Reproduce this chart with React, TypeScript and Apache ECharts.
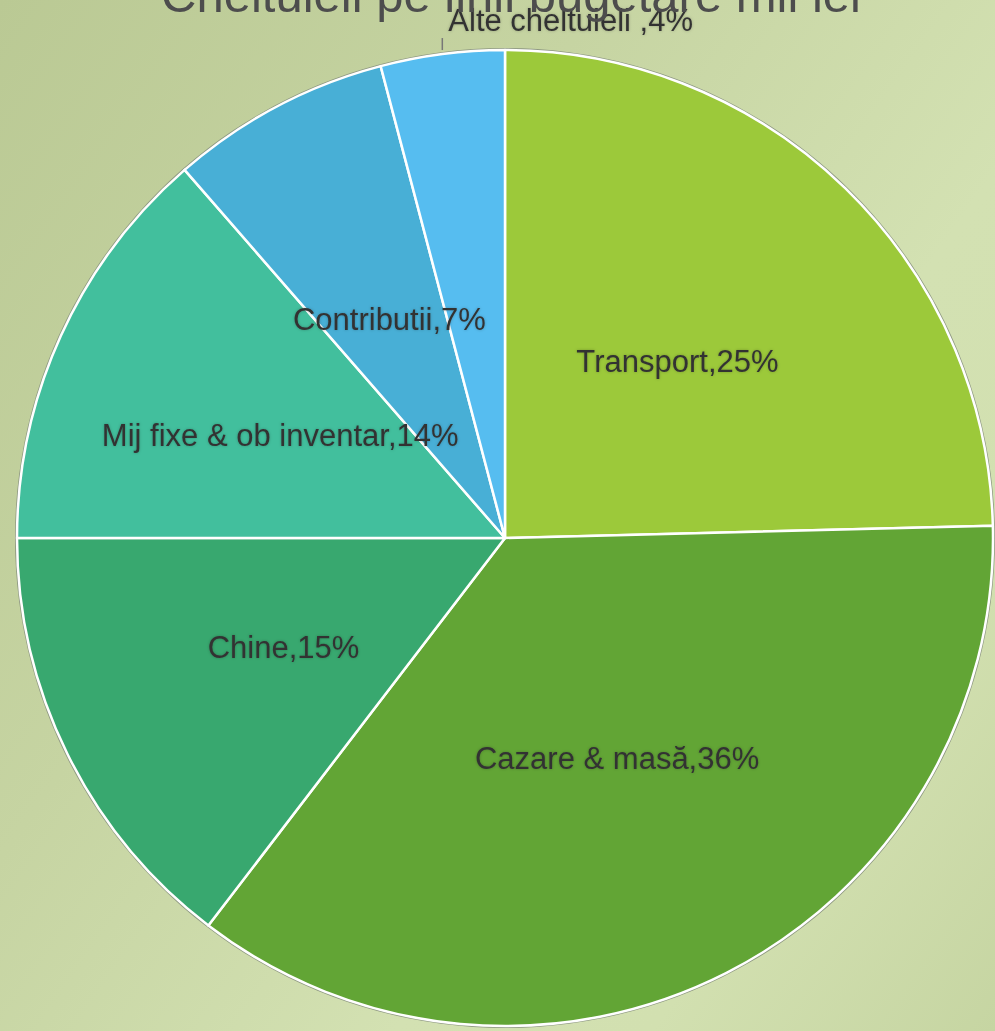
import React, { useEffect, useRef } from "react";
import * as echarts from "echarts";

const titleText = "Cheltuieli pe linii bugetare mii lei";
const categories = [
  "Transport",
  "Cazare & masă",
  "Chine",
  "Mij fixe & ob inventar",
  "Contributii",
  "Alte cheltuieli ",
];
const values = [24.6, 35.8, 14.6, 13.6, 7.3, 4.1];
const colors = ["#9cc93a", "#62a535", "#38a86f", "#42bf9d", "#48afd6", "#56bdf0"];

export default function App() {
  const ref = useRef<HTMLDivElement>(null);
  useEffect(() => {
    if (!ref.current) return;
    const chart = echarts.init(ref.current, null, { renderer: "svg" });
    const labelFont = {
      fontFamily: "'Liberation Sans', Arial, sans-serif",
      fontSize: 31,
      color: "#333",
      textShadowColor: "rgba(0,0,0,0.25)",
      textShadowBlur: 3,
    };
    const data = categories.map((name, i) => {
      const item: any = { name, value: values[i], itemStyle: { color: colors[i] } };
      if (i === categories.length - 1) {
        item.label = { position: "outside", show: true };
        item.labelLine = { show: true, length: 12, length2: 0, lineStyle: { color: "#777", width: 1.5 } };
      }
      return item;
    });
    chart.setOption({
      animation: false,
      backgroundColor: "transparent",
      title: {
        text: titleText,
        left: 506,
        textAlign: "center",
        top: -35,
        textStyle: {
          fontFamily: "'Liberation Sans', Arial, sans-serif",
          fontSize: 49,
          fontWeight: "normal",
          color: "#4d4d4d",
        },
      },
      series: [
        {
          type: "pie",
          silent: true,
          center: [505, 538],
          radius: [0, 490],
          startAngle: 90,
          label: { show: false },
          labelLine: { show: false },
          itemStyle: { color: "#8e9882" },
          data: [{ name: "outline", value: 1 }],
          z: 1,
        },
        {
          type: "pie",
          center: [505, 538],
          radius: [0, 488],
          startAngle: 90,
          clockwise: true,
          z: 2,
          itemStyle: { borderColor: "#ffffff", borderWidth: 2.5 },
          label: {
            show: true,
            position: "inside",
            ...labelFont,
            formatter: (p: any) => `${p.name},${Math.round(p.percent)}%`,
          },
          labelLine: { show: false },
          labelLayout: (params: any) => {
            if (params.dataIndex !== categories.length - 1) return {};
            const pts = params.labelLinePoints;
            if (!pts) return {};
            const s = pts[0];
            return {
              x: s[0] + 6,
              y: s[1] - 34,
              align: "left",
              verticalAlign: "middle",
              labelLinePoints: [
                [s[0], s[1] - 4],
                [s[0], s[1] - 16],
                [s[0], s[1] - 16],
              ],
            };
          },
          data,
        },
      ],
    });
    return () => chart.dispose();
  }, []);
  return (
    <div
      ref={ref}
      style={{
        position: "fixed",
        left: 0,
        top: 0,
        width: 995,
        height: 1031,
        background:
          "linear-gradient(125deg, #bac994 0%, #c6d4a2 35%, #d3e1b2 65%, #d2e0b0 80%, #c6d5a2 100%)",
      }}
    />
  );
}
